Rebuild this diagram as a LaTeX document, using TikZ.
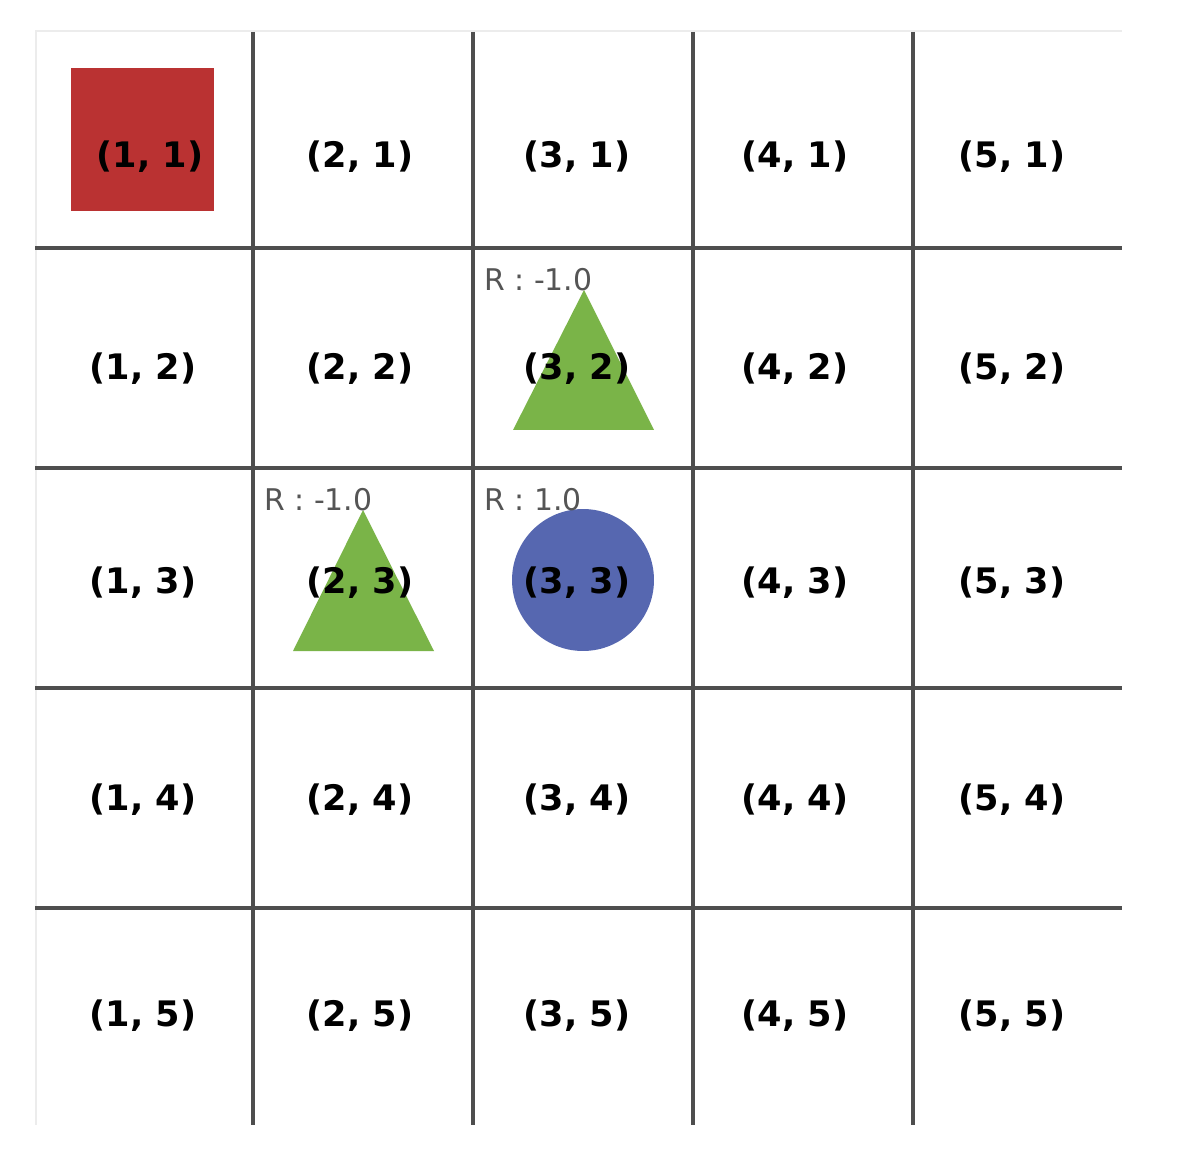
\documentclass[tikz,border=0pt]{standalone}
\usepackage{fontspec}
\setmainfont{DejaVu Sans}
\definecolor{gridgray}{RGB}{78,78,78}
\definecolor{faintgray}{RGB}{236,236,236}
\definecolor{redsq}{RGB}{186,50,50}
\definecolor{greentri}{RGB}{122,180,72}
\definecolor{bluecirc}{RGB}{86,103,176}
\definecolor{labgray}{RGB}{85,85,85}
\begin{document}
\begin{tikzpicture}[x=0.02cm,y=-0.02cm,
  gridline/.style={draw=gridgray,line width=1.8pt},
  faintline/.style={draw=faintgray,line width=0.8pt},
  cell/.style={font=\bfseries\fontsize{20}{22}\selectfont,text=black,inner sep=0pt},
  rlab/.style={font=\fontsize{17}{19}\selectfont,text=labgray,inner sep=0pt,anchor=west}]
\useasboundingbox (0,0) rectangle (1190,1155);
\fill[white] (0,0) rectangle (1190,1155);
% faint outer border
\draw[faintline] (35,31) -- (1122,31);
\draw[faintline] (36,31) -- (36,1125);
% grid lines
\foreach \gx in {253,473,693,913} \draw[gridline] (\gx,32) -- (\gx,1125);
\foreach \gy in {248,468,688,908} \draw[gridline] (35,\gy) -- (1122,\gy);
% objects
\fill[redsq] (71,68) rectangle (214,211);
\fill[greentri] (584,290) -- (654,430) -- (513,430) -- cycle;
\fill[greentri] (363,510) -- (434,651) -- (293,651) -- cycle;
\fill[bluecirc] (583,580) circle[radius=1.42cm];
% reward labels
\node[rlab] (r32) at (484,280) {R : -1.0};
\node[rlab] (r23) at (264,500) {R : -1.0};
\node[rlab] (r33) at (484,500) {R : 1.0};
% cell labels
\foreach \i/\cx in {1/143,2/360,3/577,4/795,5/1012}{
  \foreach \j/\cy in {2/369,3/583,4/800,5/1016}{
    \node[cell] (c\i\j) at (\cx,\cy) {(\i, \j)};
  }
}
\foreach \i/\cx in {2/360,3/577,4/795,5/1012}{
  \node[cell] (c\i1) at (\cx,157) {(\i, 1)};
}
\node[cell] (c11) at (150,157) {(1, 1)};
\end{tikzpicture}
\end{document}
